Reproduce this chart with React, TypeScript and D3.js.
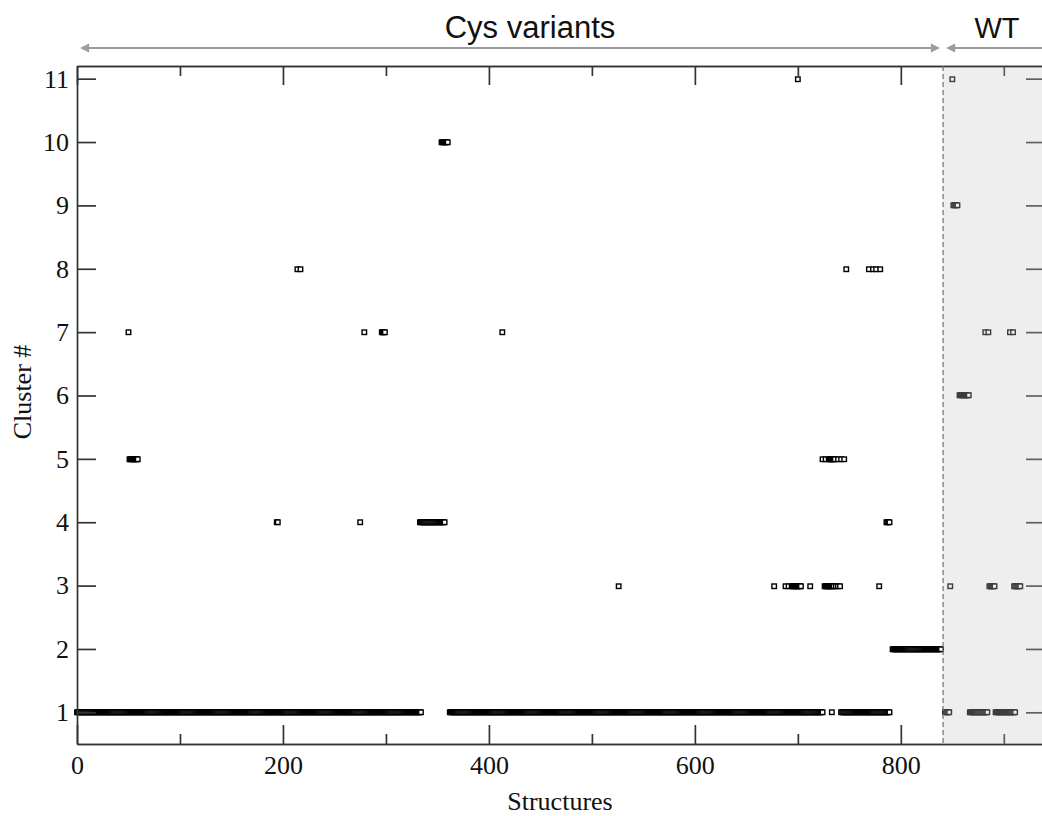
import React, { useEffect, useRef } from 'react';
import * as d3 from 'd3';

// runs of consecutive structure indices [first, last] per cluster
const cluster1 = [[0, 334], [362, 724], [733, 733], [742, 789], [843, 847], [867, 884], [892, 911]];
const cluster2 = [[792, 839]];
const cluster3 = [[526, 526], [677, 677], [688, 688], [691, 691], [694, 703], [712, 712], [726, 735], [737, 737], [739, 739], [741, 741], [779, 779], [848, 848], [886, 891], [910, 916]];
const cluster4 = [[194, 195], [275, 275], [333, 357], [786, 789]];
const cluster5 = [[51, 59], [724, 724], [727, 727], [730, 736], [739, 739], [742, 742], [745, 745]];
const cluster6 = [[857, 866]];
const cluster7 = [[50, 50], [279, 279], [296, 299], [413, 413], [882, 882], [885, 885], [906, 906], [909, 909]];
const cluster8 = [[214, 214], [217, 217], [747, 747], [769, 769], [773, 773], [776, 776], [780, 780]];
const cluster9 = [[851, 855]];
const cluster10 = [[354, 360]];
const cluster11 = [[700, 700], [850, 850]];

const clusterRuns = [cluster1, cluster2, cluster3, cluster4, cluster5, cluster6, cluster7, cluster8, cluster9, cluster10, cluster11];

const yTicks = [1, 2, 3, 4, 5, 6, 7, 8, 9, 10, 11];
const xMajorTicks = [0, 200, 400, 600, 800];
const xMinorTicks = [100, 300, 500, 700, 900];

const wtStart = 841;
const groups = [
  { label: 'Cys variants', from: 3, to: 838 },
  { label: 'WT', from: 844, to: 960 },
];

const W = 1042;
const H = 816;

const App = () => {
  const ref = useRef<SVGSVGElement>(null);

  useEffect(() => {
    const svg = d3.select(ref.current);
    svg.selectAll('*').remove();

    const x = d3.scaleLinear().domain([0, 940]).range([77, 1045]);
    const y = d3.scaleLinear().domain([0.5, 11.2]).range([744, 66]);
    const axisColor = '#333';
    const serif = '"Liberation Serif", "DejaVu Serif", serif';
    const sans = '"Liberation Sans", Arial, sans-serif';

    const points: { s: number; c: number }[] = [];
    clusterRuns.forEach((runs, i) => {
      runs.forEach(([a, b]) => {
        for (let s = a; s <= b; s++) points.push({ s, c: i + 1 });
      });
    });

    // open square markers
    svg.append('g')
      .selectAll('rect')
      .data(points)
      .enter().append('rect')
      .attr('x', d => x(d.s) - 2.25)
      .attr('y', d => Math.round(y(d.c)) - 2)
      .attr('width', 4.5)
      .attr('height', 4.5)
      .attr('fill', '#fff')
      .attr('stroke', '#000')
      .attr('stroke-width', 1.4);

    const styleAxis = (g: any) => {
      g.selectAll('path').attr('stroke', axisColor).attr('stroke-width', 1.7);
      g.selectAll('line').attr('stroke', axisColor).attr('stroke-width', 1.7);
      g.selectAll('text')
        .attr('fill', '#111')
        .attr('font-family', serif)
        .attr('font-size', 26);
    };

    svg.append('g')
      .attr('transform', 'translate(0,744)')
      .call(d3.axisBottom(x).tickValues(xMajorTicks).tickSizeInner(-19).tickSizeOuter(0).tickPadding(12).tickFormat(d3.format('d')))
      .call(styleAxis);
    svg.append('g')
      .attr('transform', 'translate(0,744)')
      .call(d3.axisBottom(x).tickValues(xMinorTicks).tickSizeInner(-10).tickSizeOuter(0).tickFormat(() => ''))
      .call(styleAxis);
    svg.append('g')
      .attr('transform', 'translate(0,66)')
      .call(d3.axisTop(x).tickValues(xMajorTicks).tickSizeInner(-19).tickSizeOuter(0).tickFormat(() => ''))
      .call(styleAxis);
    svg.append('g')
      .attr('transform', 'translate(0,66)')
      .call(d3.axisTop(x).tickValues(xMinorTicks).tickSizeInner(-10).tickSizeOuter(0).tickFormat(() => ''))
      .call(styleAxis);
    svg.append('g')
      .attr('transform', 'translate(77,0)')
      .call(d3.axisLeft(y).tickValues(yTicks).tickSizeInner(-19).tickSizeOuter(0).tickPadding(8))
      .call(styleAxis);
    svg.append('g')
      .attr('transform', 'translate(1045,0)')
      .call(d3.axisRight(y).tickValues(yTicks).tickSizeInner(-19).tickSizeOuter(0).tickFormat(() => ''))
      .call(styleAxis);

    // WT shading
    svg.append('rect')
      .attr('x', x(wtStart))
      .attr('y', 67)
      .attr('width', W - x(wtStart))
      .attr('height', 744 - 67)
      .attr('fill', 'rgb(200,200,200)')
      .attr('fill-opacity', 0.3);

    svg.append('line')
      .attr('x1', x(wtStart)).attr('x2', x(wtStart))
      .attr('y1', 66).attr('y2', 746)
      .attr('stroke', '#777')
      .attr('stroke-width', 1.3)
      .attr('stroke-dasharray', '5,3');

    // group arrows
    const arrowY = 48;
    const gray = '#9b9b9b';
    const head = (tip: number, dir: number) =>
      `M${tip},${arrowY} L${tip - dir * 9},${arrowY - 4.5} L${tip - dir * 9},${arrowY + 4.5} Z`;
    groups.forEach(g => {
      const x0 = x(g.from);
      const x1 = x(g.to);
      svg.append('line')
        .attr('x1', x0 + 4).attr('x2', x1 - 4)
        .attr('y1', arrowY).attr('y2', arrowY)
        .attr('stroke', gray).attr('stroke-width', 2);
      svg.append('path').attr('d', head(x0, -1)).attr('fill', gray);
      svg.append('path').attr('d', head(x1, 1)).attr('fill', gray);
    });

    svg.append('text')
      .attr('x', 530).attr('y', 38)
      .attr('text-anchor', 'middle')
      .attr('font-family', sans)
      .attr('font-size', 31)
      .attr('fill', '#111')
      .text(groups[0].label);
    svg.append('text')
      .attr('x', 997).attr('y', 38)
      .attr('text-anchor', 'middle')
      .attr('font-family', sans)
      .attr('font-size', 29)
      .attr('fill', '#111')
      .text(groups[1].label);

    svg.append('text')
      .attr('x', 560).attr('y', 810)
      .attr('text-anchor', 'middle')
      .attr('font-family', serif)
      .attr('font-size', 26)
      .attr('fill', '#111')
      .text('Structures');
    svg.append('text')
      .attr('transform', 'translate(31,392) rotate(-90)')
      .attr('text-anchor', 'middle')
      .attr('font-family', serif)
      .attr('font-size', 26)
      .attr('fill', '#111')
      .text('Cluster #');
  }, []);

  return (
    <div style={{ position: 'absolute', left: 0, top: 0 }}>
      <svg ref={ref} width={W} height={H} style={{ display: 'block', background: '#fff' }} />
    </div>
  );
};

export default App;
